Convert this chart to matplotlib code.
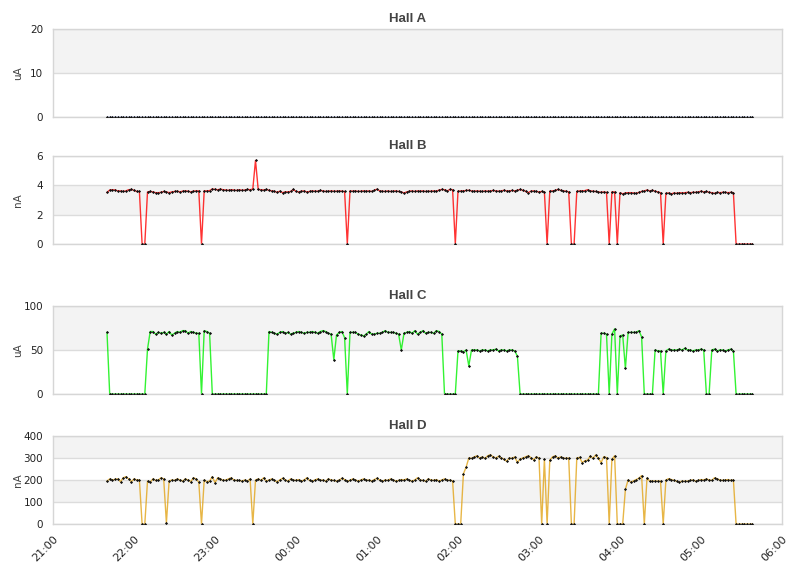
import matplotlib
matplotlib.use("Agg")
import matplotlib.pyplot as plt
import matplotlib.dates as mdates
import pandas as pd

# ---- data -------------------------------------------------------------
times = pd.date_range("2024-01-01 21:40", periods=240, freq="2min")

titles = ["Hall A", "Hall B", "Hall C", "Hall D"]
units = ["uA", "nA", "uA", "nA"]
y_ticks = [[0, 10, 20], [0, 2, 4, 6], [0, 50, 100], [0, 100, 200, 300, 400]]
line_colors = ["#4060ff", "#ff0000", "#00f000", "#e2a418"]

hall_a = [0.0] * 240

hall_b = [
    3.52, 3.68, 3.70, 3.68, 3.62, 3.62, 3.58, 3.62, 3.70, 3.72,
    3.66, 3.58, 3.58, 0, 0, 3.55, 3.58, 3.55, 3.50, 3.50,
    3.52, 3.58, 3.55, 3.50, 3.55, 3.58, 3.60, 3.55, 3.60, 3.62,
    3.60, 3.55, 3.60, 3.62, 3.62, 0, 3.62, 3.62, 3.64, 3.75,
    3.72, 3.70, 3.74, 3.70, 3.68, 3.66, 3.70, 3.68, 3.65, 3.70,
    3.66, 3.68, 3.72, 3.70, 3.75, 5.70, 3.72, 3.70, 3.68, 3.72,
    3.66, 3.62, 3.60, 3.52, 3.60, 3.50, 3.55, 3.55, 3.58, 3.72,
    3.58, 3.55, 3.60, 3.62, 3.55, 3.58, 3.62, 3.60, 3.60, 3.65,
    3.62, 3.58, 3.60, 3.62, 3.60, 3.60, 3.62, 3.60, 3.58, 0,
    3.62, 3.60, 3.62, 3.58, 3.60, 3.62, 3.60, 3.62, 3.58, 3.66,
    3.74, 3.62, 3.60, 3.58, 3.62, 3.58, 3.60, 3.62, 3.58, 3.55,
    3.48, 3.55, 3.60, 3.62, 3.58, 3.62, 3.60, 3.62, 3.58, 3.60,
    3.60, 3.62, 3.60, 3.68, 3.72, 3.70, 3.62, 3.72, 3.70, 0,
    3.60, 3.62, 3.62, 3.65, 3.66, 3.62, 3.60, 3.62, 3.60, 3.58,
    3.62, 3.60, 3.62, 3.65, 3.62, 3.60, 3.62, 3.66, 3.62, 3.62,
    3.65, 3.62, 3.66, 3.72, 3.66, 3.60, 3.50, 3.60, 3.62, 3.58,
    3.55, 3.58, 3.55, 0, 3.60, 3.62, 3.65, 3.72, 3.66, 3.62,
    3.60, 3.55, 0, 0, 3.58, 3.62, 3.62, 3.64, 3.70, 3.62,
    3.60, 3.58, 3.55, 3.52, 3.55, 3.52, 0, 3.55, 3.55, 0,
    3.50, 3.42, 3.48, 3.50, 3.50, 3.48, 3.45, 3.52, 3.58, 3.62,
    3.68, 3.62, 3.66, 3.60, 3.55, 3.50, 0, 3.45, 3.48, 3.42,
    3.48, 3.45, 3.50, 3.48, 3.50, 3.52, 3.50, 3.52, 3.52, 3.55,
    3.60, 3.55, 3.58, 3.52, 3.50, 3.45, 3.52, 3.50, 3.52, 3.52,
    3.50, 3.52, 3.50, 0, 0, 0, 0, 0, 0, 0,
]

hall_c = [
    70, 0, 0, 0, 0, 0, 0, 0, 0, 0,
    0, 0, 0, 0, 0, 51, 71, 71, 68, 70,
    69, 70, 68, 71, 67, 69, 71, 70, 72, 72,
    69, 71, 70, 69, 69, 0, 72, 71, 69, 0,
    0, 0, 0, 0, 0, 0, 0, 0, 0, 0,
    0, 0, 0, 0, 0, 0, 0, 0, 0, 0,
    71, 70, 69, 68, 70, 71, 69, 70, 68, 69,
    70, 71, 70, 69, 70, 70, 71, 70, 69, 71,
    72, 71, 69, 68, 39, 67, 70, 71, 64, 0,
    70, 70, 70, 68, 67, 66, 68, 71, 68, 68,
    69, 69, 70, 72, 70, 70, 70, 69, 68, 50,
    69, 70, 71, 69, 72, 68, 70, 72, 69, 70,
    70, 69, 72, 71, 68, 0, 0, 0, 0, 0,
    49, 49, 48, 50, 32, 50, 50, 50, 49, 50,
    50, 49, 50, 50, 51, 49, 50, 50, 49, 50,
    50, 49, 43, 0, 0, 0, 0, 0, 0, 0,
    0, 0, 0, 0, 0, 0, 0, 0, 0, 0,
    0, 0, 0, 0, 0, 0, 0, 0, 0, 0,
    0, 0, 0, 69, 69, 68, 0, 68, 74, 0,
    66, 67, 29, 70, 70, 70, 70, 72, 65, 0,
    0, 0, 0, 50, 49, 49, 0, 49, 51, 50,
    50, 50, 51, 50, 52, 50, 50, 49, 50, 50,
    51, 50, 0, 0, 50, 51, 49, 50, 50, 49,
    50, 51, 49, 0, 0, 0, 0, 0, 0, 0,
]

hall_d = [
    195, 205, 200, 203, 205, 192, 210, 215, 205, 192,
    205, 200, 200, 0, 0, 195, 190, 205, 198, 200,
    210, 205, 5, 195, 200, 198, 205, 200, 195, 205,
    200, 192, 210, 205, 190, 0, 200, 192, 195, 215,
    188, 210, 205, 198, 200, 205, 210, 200, 198, 198,
    195, 200, 195, 205, 0, 200, 205, 198, 210, 195,
    200, 205, 198, 192, 200, 208, 200, 195, 205, 200,
    198, 202, 195, 200, 210, 198, 195, 200, 205, 198,
    200, 195, 205, 200, 198, 195, 200, 208, 202, 195,
    198, 205, 200, 195, 200, 205, 198, 200, 195, 202,
    208, 200, 195, 200, 198, 205, 200, 195, 198, 202,
    200, 205, 198, 195, 200, 210, 200, 198, 195, 205,
    200, 198, 202, 195, 200, 205, 198, 200, 195, 0,
    0, 0, 228, 258, 300, 298, 305, 310, 300, 305,
    298, 310, 315, 305, 300, 308, 300, 295, 285, 300,
    298, 305, 280, 295, 300, 305, 310, 302, 292, 305,
    300, 0, 295, 0, 290, 305, 310, 300, 305, 300,
    298, 300, 0, 0, 300, 303, 279, 288, 290, 309,
    299, 314, 299, 279, 306, 302, 0, 294, 310, 0,
    0, 0, 158, 200, 190, 196, 202, 208, 220, 0,
    209, 195, 195, 195, 195, 195, 0, 200, 206, 202,
    198, 195, 189, 195, 194, 195, 198, 200, 195, 198,
    202, 200, 205, 200, 198, 210, 205, 200, 198, 200,
    202, 198, 200, 0, 0, 0, 0, 0, 0, 0,
]

series = [hall_a, hall_b, hall_c, hall_d]

# ---- figure -----------------------------------------------------------
W, H = 811, 578
fig = plt.figure(figsize=(W / 100, H / 100), dpi=100)
fig.patch.set_facecolor("white")

left_px, right_px = 53, 782
panel_tb = [(29, 117), (156, 244), (306, 394), (436, 524)]

x0 = pd.Timestamp("2024-01-01 21:00")
x1 = pd.Timestamp("2024-01-02 06:00")
hour_ticks = pd.date_range(x0, x1, freq="1h")

axes = []
for i, (top, bot) in enumerate(panel_tb):
    ax = fig.add_axes([left_px / W, 1 - bot / H, (right_px - left_px) / W, (bot - top) / H])
    axes.append(ax)
    yt = y_ticks[i]
    for k in range(len(yt) - 1):
        if k % 2 == 1:
            ax.axhspan(yt[k], yt[k + 1], color="#f3f3f3", zorder=0, lw=0)
    for v in yt:
        ax.axhline(v, color="#dcdcdc", lw=1.0, zorder=0.5)
    ax.plot(times, series[i], color=line_colors[i], lw=1.0, alpha=0.8, zorder=2,
            solid_joinstyle="round")
    ax.plot(times, series[i], ls="none", marker="D", ms=1.6, mfc="#111111",
            mec="#111111", mew=0.0, zorder=3)
    ax.set_ylim(yt[0], yt[-1])
    ax.set_yticks(yt)
    ax.set_xlim(x0, x1)
    ax.set_xticks(hour_ticks)
    for s in ax.spines.values():
        s.set_color("#d6d6d6")
        s.set_linewidth(1.0)
        s.set_zorder(2.5)
    ax.tick_params(axis="both", length=0, labelsize=7.5, colors="#222222", pad=7)
    ax.set_ylabel(units[i], fontsize=7.5, color="#444444")
    ax.yaxis.set_label_coords(-0.041, 0.5)
    fig.text(408 / W, 1 - (top - 10) / H, titles[i], ha="center", va="center",
             fontsize=9.5, fontweight="bold", color="#444444",
             family=["Liberation Sans", "DejaVu Sans"])
    if i < 3:
        ax.tick_params(axis="x", labelbottom=False)

axd = axes[-1]
axd.xaxis.set_major_formatter(mdates.DateFormatter("%H:%M"))
for lab in axd.get_xticklabels():
    lab.set_rotation(45)
    lab.set_ha("right")
    lab.set_rotation_mode("anchor")
    lab.set_fontsize(8)
axd.tick_params(axis="x", pad=7)

fig.savefig("out.png", dpi=100, facecolor="white")
